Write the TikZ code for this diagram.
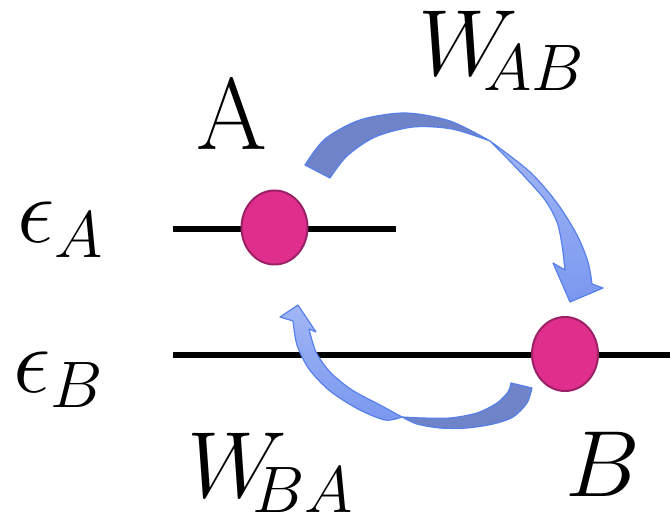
\RequirePackage{fix-cm}
\documentclass[tikz,border=0pt]{standalone}
\usetikzlibrary{shapes.geometric}
\definecolor{dk}{RGB}{110,131,200}
\definecolor{ltA}{RGB}{162,182,244}
\definecolor{ltB}{RGB}{122,152,240}
\definecolor{ol}{RGB}{88,128,235}
\definecolor{mag}{RGB}{224,46,140}
\definecolor{magb}{RGB}{156,32,102}
\begin{document}
\begin{tikzpicture}[x=0.5pt,y=-0.5pt,
  lbl/.style={inner sep=0pt, anchor=base west, font=\fontsize{47}{56}\selectfont},
  dot/.style={ellipse, draw=magb, line width=1pt, fill=mag, minimum width=33pt, minimum height=37pt, inner sep=0pt},
  lvl/.style={line width=3.2pt},
  darkpart/.style={fill=dk, draw=ol, line width=0.6pt, line join=round},
  lightpart/.style={top color=ltA, bottom color=ltB, draw=ol, line width=0.6pt, line join=round}]
\useasboundingbox (0,0) rectangle (670,523);
% energy levels
\coordinate (a0) at (173,229);
\coordinate (a1) at (396,229);
\coordinate (b0) at (173,355);
\coordinate (b1) at (670,355);
\draw[lvl] (a0) -- (a1);
\draw[lvl] (b0) -- (b1);
% arrow A -> B (top)
\path[darkpart] plot[smooth] coordinates {(305,165) (325,139) (360,120) (405,113) (450,121) (490,141)}
  -- plot[smooth] coordinates {(490,141) (452,129) (413,127) (375,137) (347,156) (330,178)} -- cycle;
\path[lightpart] plot[smooth] coordinates {(490,141) (530,172) (557,203) (577,235) (588,262) (592,284)}
  -- (603,288) -- (570,302) -- (553,263)
  -- plot[smooth] coordinates {(565,270) (562,245) (557,222) (545,200) (524,176) (503,154) (490,141)} -- cycle;
% arrow B -> A (bottom)
\path[darkpart] plot[smooth] coordinates {(402,417) (423,418) (450,418) (477,413) (497,403) (508,392) (511,383)}
  -- (532,388)
  -- plot[smooth] coordinates {(532,388) (527,403) (513,417) (493,424) (467,428) (440,428) (417,424) (402,417)} -- cycle;
\path[lightpart] plot[smooth] coordinates {(402,417) (380,405) (352,390) (330,372) (316,352) (309,329)}
  -- (316,332) -- (298,305) -- (280,317)
  -- plot[smooth] coordinates {(293,321) (297,345) (309,369) (330,391) (358,409) (385,420) (402,417)} -- cycle;
% particles
\node[dot] (A) at (274.5,227.5) {};
\node[dot] (B) at (565,354) {};
% labels
\node[lbl, font=\fontsize{51}{60}\selectfont] (lA) at (196,150) {A};
\node[lbl] (lB) at (565,497) {$B$};
\node[lbl] (eA) at (17,243) {$\epsilon_A$};
\node[lbl] (eB) at (13,393) {$\epsilon_B$};
\node[lbl] (wAB) at (418,76) {$W_{\!\!AB}$};
\node[lbl] (wBA) at (187,498) {$W_{\!\!BA}$};
\end{tikzpicture}
\end{document}
